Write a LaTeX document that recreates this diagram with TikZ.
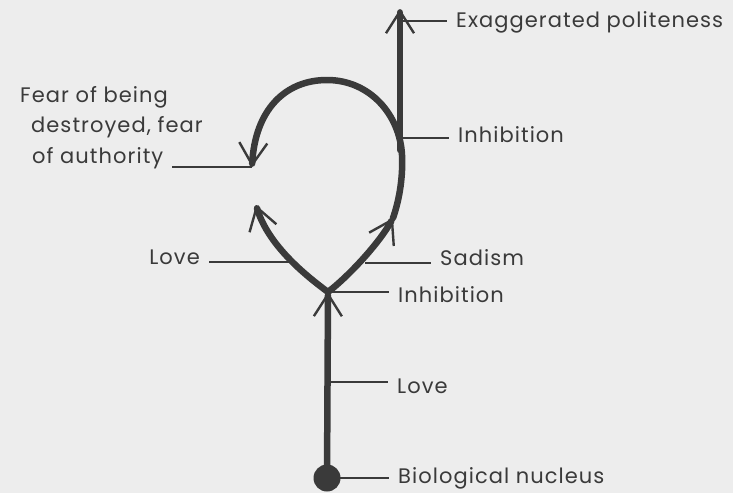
\documentclass[tikz,border=0pt]{standalone}
\usepackage{fontspec}
\setmainfont[LetterSpace=5]{Poppins}
\usetikzlibrary{arrows.meta,calc}
\definecolor{ink}{HTML}{3A3A3A}
\definecolor{paper}{HTML}{EDEDED}
\begin{document}
\begin{tikzpicture}[x=1pt,y=-1pt,
  heavy/.style={draw=ink,line width=6.5pt,line cap=round},
  leader/.style={draw=ink,line width=1.4pt},
  lbl/.style={text=ink,font=\fontsize{21}{31}\selectfont,inner xsep=9pt,inner ysep=0pt},
  barb/.style={-{Straight Barb[length=22pt,width=28pt,line width=2.4pt]}}]
\fill[paper] (0,0) rectangle (733,493);
\useasboundingbox (0,0) rectangle (733,493);
% labels
\node[lbl,anchor=base west] (exag) at (447,27) {Exaggerated politeness};
\node[lbl,anchor=base west] (inhA) at (449,142) {Inhibition};
\node[lbl,anchor=base west] (sad) at (431,265) {Sadism};
\node[lbl,anchor=base west] (inhB) at (389,302) {Inhibition};
\node[lbl,anchor=base west] (loveB) at (388,393) {Love};
\node[lbl,anchor=base west] (bio) at (389,483) {Biological nucleus};
\node[lbl,anchor=base east] (loveA) at (209,264) {Love};
\node[lbl,anchor=base west] (fear1) at (11,102) {Fear of being};
\node[lbl,anchor=base west] (fear2) at (22,132) {destroyed, fear};
\node[lbl,anchor=base west] (fear3) at (23,163) {of authority};
% key points
\node[circle,fill=ink,inner sep=0pt,minimum size=27pt] (nuc) at (327,478) {};
\coordinate (J) at (328,292);
\coordinate (mid) at (393,218);
\coordinate (fearTip) at (252,167);
\coordinate (loveTip) at (256,205);
\coordinate (stemBase) at (400,150);
\coordinate (top) at (400,9);
\coordinate (pExag) at (400,21);
\coordinate (pInhA) at (400,138);
\coordinate (pSad) at (365,263);
\coordinate (pLoveB) at (328,382);
\coordinate (pLoveA) at (291,262);
% leaders
\draw[leader] (pExag) -- (pExag -| exag.west);
\draw[leader] (pInhA) -- (pInhA -| inhA.west);
\draw[leader] (pSad) -- (pSad -| sad.west);
\draw[leader] (J) -- (J -| inhB.west);
\draw[leader] (pLoveB) -- (pLoveB -| loveB.west);
\draw[leader] (nuc.center) -- (nuc.center -| bio.west);
\draw[leader] (pLoveA) -- (pLoveA -| loveA.east);
\draw[leader] (fearTip) -- (fearTip -| fear3.east);
% heavy lines
\draw[heavy,barb] (nuc.center) -- (J);
\draw[heavy,barb] (stemBase) -- (top);
\draw[heavy,barb] (J) .. controls (350,275) and (380,242) .. (mid);
\draw[heavy,barb] (mid) .. controls (400,198) and (403,175) .. (402,155)
  .. controls (400,115) and (370,80) .. (327,80)
  .. controls (285,80) and (255,110) .. (fearTip);
\draw[heavy,barb] (J) .. controls (305,275) and (268,245) .. (loveTip);
\end{tikzpicture}
\end{document}
